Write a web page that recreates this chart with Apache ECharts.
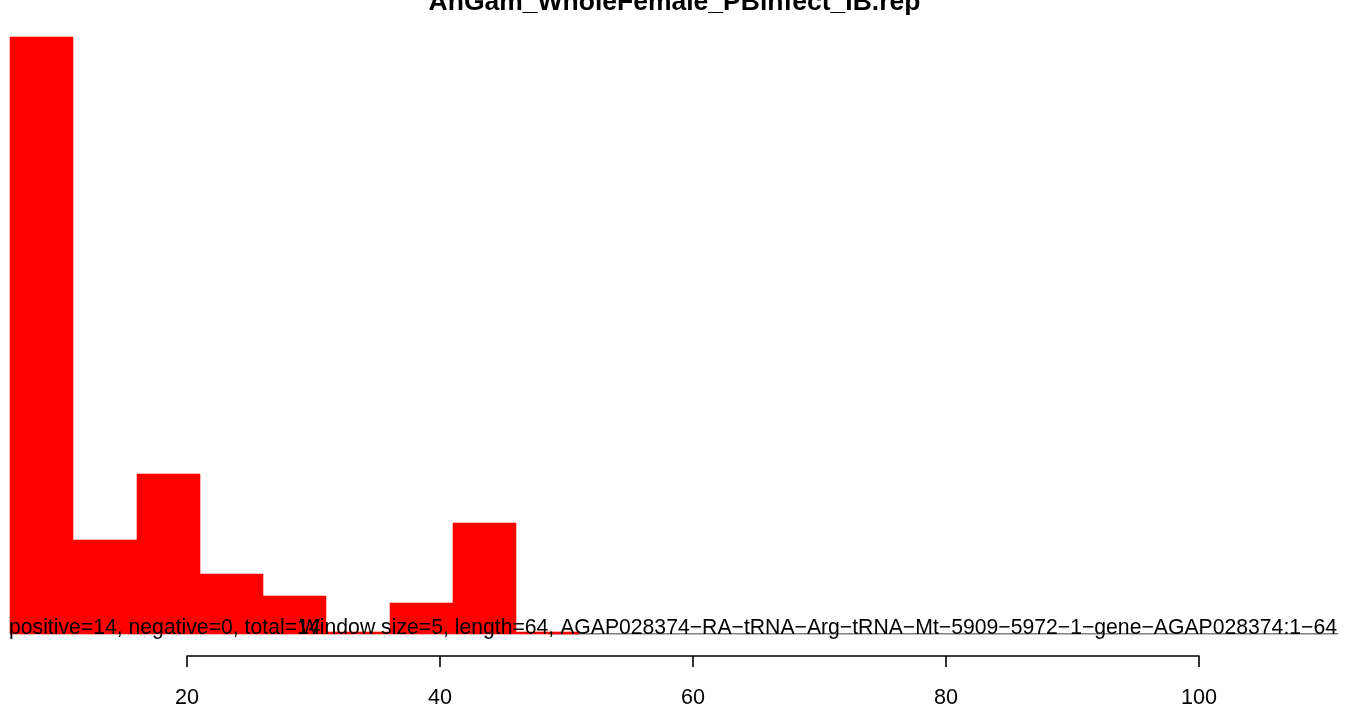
<!DOCTYPE html>
<html>
<head>
<meta charset="utf-8">
<script src="https://cdn.jsdelivr.net/npm/echarts@6/dist/echarts.min.js"></script>
<style>
html,body{margin:0;padding:0;background:#fff;}
#chart{width:1361px;height:709px;}
</style>
</head>
<body>
<div id="chart"></div>
<script>
// ---- data ----
const chartTitle = 'AnGam_WholeFemale_PBinfect_IB.rep';
const binStarts = [6, 11, 16, 21, 26, 31, 36, 41, 46];
const binWidth = 5;
const positiveValues = [1.0, 0.157, 0.268, 0.101, 0.064, 0.004, 0.052, 0.186, 0.004];
const zeroLine = [[48.6, 0], [111, 0]];
const axisTicks = [20, 40, 60, 80, 100];
const leftNote = 'positive=14, negative=0, total=14';
const rightNote = 'Window size=5, length=64, AGAP028374\u2212RA\u2212tRNA\u2212Arg\u2212tRNA\u2212Mt\u22125909\u22125972\u22121\u2212gene\u2212AGAP028374:1\u221264';

const FONT = '"Liberation Sans", Arial, sans-serif';
const chart = echarts.init(document.getElementById('chart'), null, {renderer: 'canvas'});

const barData = binStarts.map((s, i) => [s, s + binWidth, positiveValues[i]]);

const option = {
  animation: false,
  backgroundColor: '#ffffff',
  grid: [
    {left: 10, right: 10, top: 37, bottom: 75},
    {left: 187, right: 162, top: 600, bottom: 52}
  ],
  xAxis: [
    {gridIndex: 0, type: 'value', min: 6, max: 112, show: false},
    {gridIndex: 1, type: 'value', min: axisTicks[0], max: axisTicks[axisTicks.length - 1], interval: 20,
     axisLine: {show: true, lineStyle: {color: '#000', width: 1.6}},
     axisTick: {show: true, length: 11, lineStyle: {color: '#000', width: 1.6}},
     splitLine: {show: false},
     axisLabel: {color: '#000', fontSize: 21.6, fontFamily: FONT, margin: 31}}
  ],
  yAxis: [
    {gridIndex: 0, type: 'value', min: 0, max: 1, show: false},
    {gridIndex: 1, type: 'value', min: 0, max: 1, show: false}
  ],
  series: [
    {
      type: 'line',
      xAxisIndex: 0, yAxisIndex: 0,
      data: zeroLine,
      symbol: 'none',
      silent: true,
      lineStyle: {color: '#000', width: 1.2},
      z: 1
    },
    {
      type: 'custom',
      xAxisIndex: 0, yAxisIndex: 0,
      data: barData,
      clip: false,
      renderItem: function (params, api) {
        const p0 = api.coord([api.value(0), api.value(2)]);
        const p1 = api.coord([api.value(1), 0]);
        const x0 = Math.round(p0[0]), x1 = Math.round(p1[0]);
        const y0 = Math.round(p0[1]), y1 = Math.round(p1[1]);
        return {
          type: 'rect',
          shape: {x: x0, y: y0, width: x1 - x0, height: y1 - y0},
          style: {fill: '#ff0000', stroke: '#ff0000', lineWidth: 0.6}
        };
      },
      z: 2
    }
  ],
  graphic: [
    {type: 'text', x: 674.5, y: -11, z: 10,
     style: {text: chartTitle, font: 'bold 26.5px ' + FONT, fill: '#000', align: 'center'}},
    {type: 'text', left: 9, top: 618, z: 10,
     style: {text: leftNote, font: '21.2px ' + FONT, fill: '#000'}},
    {type: 'text', right: 24, top: 618, z: 10,
     style: {text: rightNote, font: '21.2px ' + FONT, fill: '#000'}}
  ]
};
chart.setOption(option);
</script>
</body>
</html>
